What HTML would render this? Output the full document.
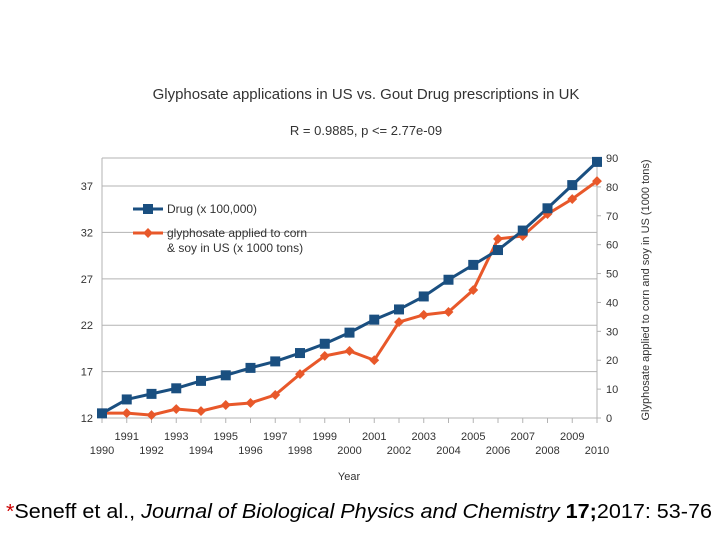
<!DOCTYPE html>
<html><head><meta charset="utf-8"><style>
body{margin:0;background:#fff}
svg{display:block;font-family:"Liberation Sans",sans-serif}
</style></head><body>
<svg id="c" width="720" height="540" viewBox="0 0 720 540">
<text x="366" y="99" text-anchor="middle" font-size="15" fill="#333">Glyphosate applications in US vs. Gout Drug prescriptions in UK</text>
<text x="366" y="135" text-anchor="middle" font-size="13" fill="#333">R = 0.9885, p &lt;= 2.77e-09</text>
<g id="grid"></g>
<g id="axes"></g>
<g id="series"></g>
<text x="349" y="480" text-anchor="middle" font-size="11" fill="#333">Year</text>
<text transform="translate(649,290) rotate(-90)" text-anchor="middle" font-size="11" fill="#333">Glyphosate applied to corn and soy in US (1000 tons)</text>
<g>
<line x1="133" y1="209" x2="163" y2="209" stroke="#1a4f80" stroke-width="3"/>
<rect x="143" y="204" width="10" height="10" fill="#1a4f80"/>
<text x="167" y="213" font-size="12" fill="#333">Drug (x 100,000)</text>
<line x1="133" y1="233" x2="163" y2="233" stroke="#e8582a" stroke-width="3"/>
<rect x="144.5" y="229.5" width="7" height="7" fill="#e8582a" transform="rotate(45 148 233)"/>
<text x="167" y="237" font-size="12" fill="#333">glyphosate applied to corn</text>
<text x="167" y="252" font-size="12" fill="#333">&amp; soy in US (x 1000 tons)</text>
</g>
<text x="6" y="518" font-size="20" fill="#000" textLength="706" lengthAdjust="spacingAndGlyphs"><tspan fill="#c00">*</tspan>Seneff et al., <tspan font-style="italic">Journal of Biological Physics and Chemistry</tspan> <tspan font-weight="bold">17;</tspan>2017: 53-76</text>
</svg>
<script>
const years=[1990,1991,1992,1993,1994,1995,1996,1997,1998,1999,2000,2001,2002,2003,2004,2005,2006,2007,2008,2009,2010];
const drug=[12.5,14.0,14.6,15.2,16.0,16.6,17.4,18.1,19.0,20.0,21.2,22.6,23.7,25.1,26.9,28.5,30.1,32.2,34.6,37.1,39.6];
const glyph=[1.7,1.7,1.0,3.1,2.4,4.5,5.2,8.0,15.2,21.5,23.2,20.0,33.2,35.7,36.7,44.3,62.0,63.0,70.6,75.8,82.0];
const leftTicks=[12,17,22,27,32,37];
const rightTicks=[0,10,20,30,40,50,60,70,80,90];
const NS="http://www.w3.org/2000/svg";
const X0=102,X1=597,YB=418,YT=158;
const xs=y=>X0+(y-1990)*(X1-X0)/20;
const yl=v=>YB-(v-12)*(YB-YT)/28.02;
const yr=v=>YB-v*(YB-YT)/90;
function mk(tag,at,parent){const e=document.createElementNS(NS,tag);for(const k in at)e.setAttribute(k,at[k]);parent.appendChild(e);return e;}
const gridG=document.getElementById('grid'),axesG=document.getElementById('axes'),serG=document.getElementById('series');
leftTicks.forEach(t=>{
 const l=mk('line',{x1:X0,x2:X1,y1:yl(t),y2:yl(t),stroke:'#b3b3b3','stroke-width':1},gridG);
 
 
 const tx=mk('text',{x:93,y:yl(t)+4,'text-anchor':'end','font-size':11,fill:'#333'},axesG);tx.textContent=t;
 
 
});
const topBorder=mk('line',{x1:X0,x2:X1,y1:YT,y2:YT,stroke:'#b3b3b3'},gridG);


const la=mk('line',{x1:X0,x2:X0,y1:YT,y2:YB,stroke:'#b3b3b3'},axesG);


const ra=mk('line',{x1:X1,x2:X1,y1:YT,y2:YB,stroke:'#b3b3b3'},axesG);


rightTicks.forEach(t=>{
 mk('line',{x1:X1,x2:X1+4,y1:yr(t),y2:yr(t),stroke:'#b3b3b3'},axesG);
 const tx=mk('text',{x:606,y:yr(t)+4,'font-size':11,fill:'#333'},axesG);tx.textContent=t;
 
 
});
years.forEach((y,i)=>{
 mk('line',{x1:xs(y),x2:xs(y),y1:YB,y2:YB+5,stroke:'#b3b3b3'},axesG);
 const tx=mk('text',{x:xs(y),y:i%2?440:454,'text-anchor':'middle','font-size':11,fill:'#333'},axesG);tx.textContent=y;
 
 
});
const gp=mk('polyline',{points:years.map((y,i)=>xs(y)+','+yr(glyph[i])).join(' '),fill:'none',stroke:'#e8582a','stroke-width':3},serG);


const dp=mk('polyline',{points:years.map((y,i)=>xs(y)+','+yl(drug[i])).join(' '),fill:'none',stroke:'#1a4f80','stroke-width':3},serG);


years.forEach((y,i)=>{
 const x=xs(y),gy=yr(glyph[i]);
 const d=mk('rect',{x:x-3.5,y:gy-3.5,width:7,height:7,fill:'#e8582a',transform:`rotate(45 ${x} ${gy})`},serG);
 
 
});
years.forEach((y,i)=>{
 const x=xs(y),dy=yl(drug[i]);
 const r=mk('rect',{x:x-5,y:dy-5,width:10,height:10,fill:'#1a4f80'},serG);
 
 
});
</script>
</body></html>
